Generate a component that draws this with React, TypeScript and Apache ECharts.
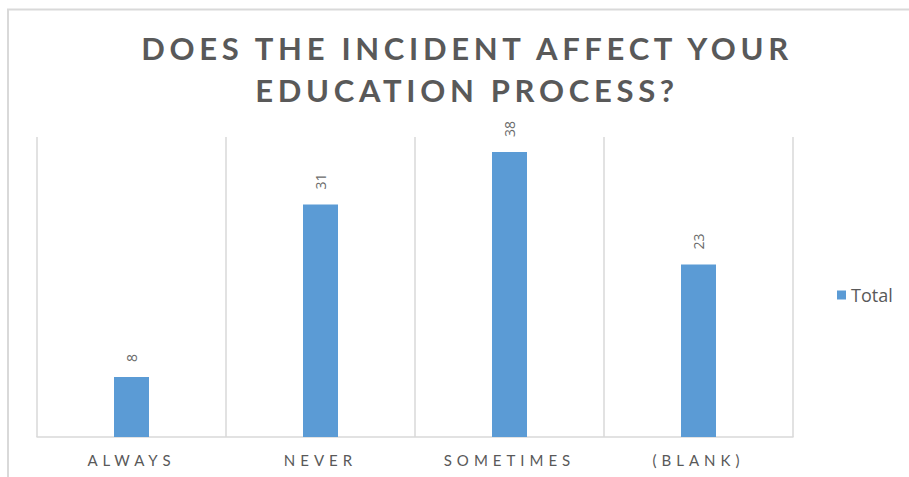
import React, { useEffect, useRef } from 'react';
import * as echarts from 'echarts';

// Survey answers and their counts
const categories = ['ALWAYS', 'NEVER', 'SOMETIMES', '(BLANK)'];
const totals = [8, 31, 38, 23];
const seriesName = 'Total';
const titleLines = ['DOES THE INCIDENT AFFECT YOUR', 'EDUCATION PROCESS?'];
const yMax = 40;

const TEXT_GREY = '#595959';
const LINE_GREY = '#d9d9d9';
const BAR_BLUE = '#5b9bd5';
const FONT = 'Lato, "Open Sans", sans-serif';

export default function App() {
  const ref = useRef<HTMLDivElement>(null);

  useEffect(() => {
    const chart = echarts.init(ref.current!, null, { renderer: 'svg' });
    chart.setOption({
      animation: false,
      backgroundColor: '#ffffff',
      title: {
        text: titleLines.join('\n'),
        left: 467,
        top: 27,
        padding: 0,
        textAlign: 'center',
        textStyle: {
          fontFamily: FONT,
          fontWeight: 'bold',
          fontSize: 31,
          lineHeight: 42,
          color: TEXT_GREY,
        },
      },
      legend: {
        data: [seriesName],
        orient: 'vertical',
        left: 837,
        top: 286,
        padding: 0,
        icon: 'rect',
        itemWidth: 9,
        itemHeight: 9,
        textStyle: { fontFamily: '"Open Sans", sans-serif', fontSize: 18, color: TEXT_GREY },
      },
      grid: { left: 37, right: 116, top: 137, bottom: 40, containLabel: false },
      xAxis: {
        type: 'category',
        data: categories,
        boundaryGap: true,
        axisTick: { show: false },
        axisLine: { lineStyle: { color: LINE_GREY, width: 1.5 } },
        splitLine: { show: true, lineStyle: { color: LINE_GREY, width: 1.5 } },
        axisLabel: {
          interval: 0,
          margin: 15,
          fontFamily: FONT,
          fontSize: 15,
          color: TEXT_GREY,
        },
      },
      yAxis: {
        type: 'value',
        min: 0,
        max: yMax,
        show: false,
        splitLine: { show: false },
      },
      series: [
        {
          name: seriesName,
          type: 'bar',
          data: totals,
          barWidth: 35,
          itemStyle: { color: BAR_BLUE },
          label: {
            show: true,
            position: 'top',
            rotate: 90,
            align: 'left',
            verticalAlign: 'middle',
            distance: 15,
            fontFamily: '"Open Sans", sans-serif',
            fontSize: 14,
            color: '#6a6a6a',
          },
        },
      ],
      graphic: [
        {
          type: 'rect',
          shape: { x: 8, y: 9.5, width: 1200, height: 1200 },
          style: { fill: 'none', stroke: LINE_GREY, lineWidth: 2 },
          silent: true,
          z: -1,
        },
      ],
    });
    return () => chart.dispose();
  }, []);

  return (
    <>
      <style>{`
        #chart-box text[style*="31px"] { letter-spacing: 4.7px; }
        #chart-box text[style*="15px"] { letter-spacing: 5px; }
      `}</style>
      <div
        id="chart-box"
        ref={ref}
        style={{ position: 'absolute', left: 0, top: 0, width: 909, height: 477, background: '#fff' }}
      />
    </>
  );
}
